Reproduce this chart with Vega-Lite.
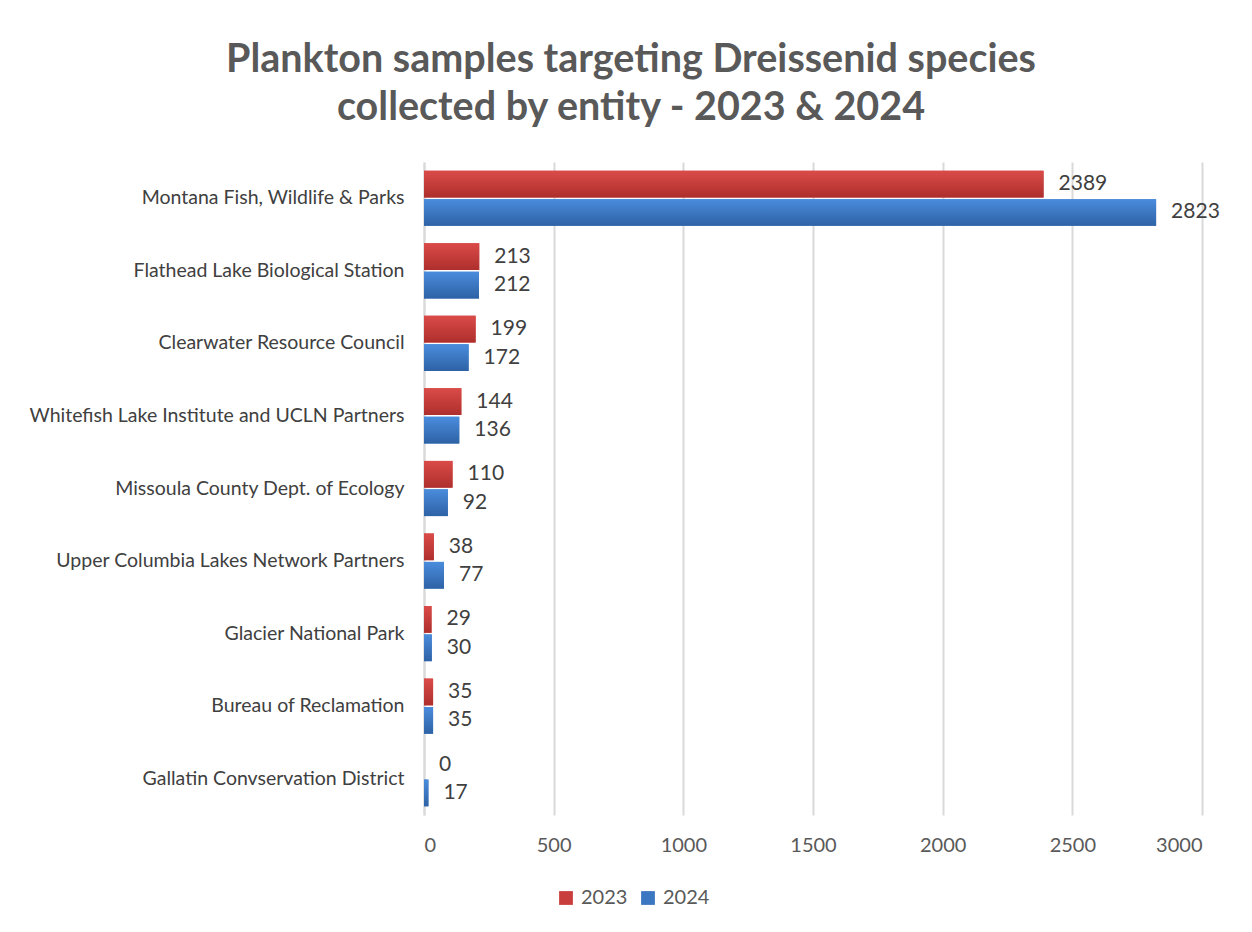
{
  "$schema": "https://vega.github.io/schema/vega-lite/v6.json",
  "autosize": {"type": "none"},
  "width": 778,
  "height": 653,
  "padding": {"left": 424, "top": 162, "right": 50, "bottom": 117},
  "background": "white",
  "config": {"view": {"stroke": null}},
  "title": {
    "text": ["Plankton samples targeting Dreissenid species", "collected by entity - 2023 & 2024"],
    "font": "Lato",
    "fontSize": 39.5,
    "fontWeight": "bold",
    "color": "#595959",
    "anchor": "middle",
    "dx": -182,
    "lineHeight": 48,
    "offset": 34
  },
  "data": {
    "values": [
      {"entity": "Montana Fish, Wildlife & Parks", "year": "2023", "samples": 2389},
      {"entity": "Montana Fish, Wildlife & Parks", "year": "2024", "samples": 2823},
      {"entity": "Flathead Lake Biological Station", "year": "2023", "samples": 213},
      {"entity": "Flathead Lake Biological Station", "year": "2024", "samples": 212},
      {"entity": "Clearwater Resource Council", "year": "2023", "samples": 199},
      {"entity": "Clearwater Resource Council", "year": "2024", "samples": 172},
      {"entity": "Whitefish Lake Institute and UCLN Partners ", "year": "2023", "samples": 144},
      {"entity": "Whitefish Lake Institute and UCLN Partners ", "year": "2024", "samples": 136},
      {"entity": "Missoula County Dept. of Ecology", "year": "2023", "samples": 110},
      {"entity": "Missoula County Dept. of Ecology", "year": "2024", "samples": 92},
      {"entity": "Upper Columbia Lakes Network Partners", "year": "2023", "samples": 38},
      {"entity": "Upper Columbia Lakes Network Partners", "year": "2024", "samples": 77},
      {"entity": "Glacier National Park", "year": "2023", "samples": 29},
      {"entity": "Glacier National Park", "year": "2024", "samples": 30},
      {"entity": "Bureau of Reclamation", "year": "2023", "samples": 35},
      {"entity": "Bureau of Reclamation", "year": "2024", "samples": 35},
      {"entity": "Gallatin Convservation District", "year": "2023", "samples": 0},
      {"entity": "Gallatin Convservation District", "year": "2024", "samples": 17}
    ]
  },
  "encoding": {
    "y": {
      "field": "entity",
      "type": "nominal",
      "sort": null,
      "title": null,
      "scale": {"paddingInner": 0.24, "paddingOuter": 0.12},
      "axis": {
        "labelFont": "Lato",
        "labelFontSize": 19.5,
        "labelColor": "#404040",
        "labelPadding": 20,
        "labelLimit": 420,
        "ticks": false,
        "domainColor": "#d9d9d9",
        "domainWidth": 2
      }
    },
    "yOffset": {
      "field": "year",
      "type": "nominal",
      "scale": {"domain": ["2023", "2024"], "paddingInner": 0.06}
    },
    "x": {
      "field": "samples",
      "type": "quantitative",
      "title": null,
      "scale": {"domain": [0, 3000], "nice": false},
      "axis": {
        "values": [0, 500, 1000, 1500, 2000, 2500, 3000],
        "format": "d",
        "labelFont": "Lato",
        "labelFontSize": 20,
        "labelColor": "#595959",
        "labelPadding": 20,
        "ticks": false,
        "domain": false,
        "gridColor": "#d9d9d9",
        "gridWidth": 2
      }
    }
  },
  "layer": [
    {
      "mark": {"type": "bar"},
      "encoding": {
        "color": {
          "field": "year",
          "type": "nominal",
          "title": null,
          "scale": {"domain": ["2023", "2024"], "range": ["#C83E3C", "#3C77C2"]},
          "legend": {
            "orient": "none",
            "legendX": 132,
            "legendY": 726,
            "direction": "horizontal",
            "symbolType": "square",
            "symbolSize": 190,
            "symbolStrokeWidth": 0,
            "labelFont": "Lato",
            "labelFontSize": 20,
            "labelColor": "#595959",
            "columnPadding": 10,
            "labelOffset": 5
          }
        }
      }
    },
    {
      "transform": [{"filter": "datum.year === '2023'"}],
      "mark": {
        "type": "bar",
        "fill": {"gradient": "linear", "x1": 0, "y1": 0, "x2": 0, "y2": 1, "stops": [{"offset": 0, "color": "#DA4B48"}, {"offset": 1, "color": "#AE2F2D"}]}
      },
      "encoding": {}
    },
    {
      "transform": [{"filter": "datum.year === '2024'"}],
      "mark": {
        "type": "bar",
        "fill": {"gradient": "linear", "x1": 0, "y1": 0, "x2": 0, "y2": 1, "stops": [{"offset": 0, "color": "#4A8CDD"}, {"offset": 1, "color": "#2E62A5"}]}
      },
      "encoding": {}
    },
    {
      "mark": {"type": "text", "align": "left", "dx": 15, "font": "Lato", "fontSize": 21, "color": "#404040"},
      "encoding": {
        "text": {"field": "samples", "type": "quantitative"}
      }
    }
  ]
}
